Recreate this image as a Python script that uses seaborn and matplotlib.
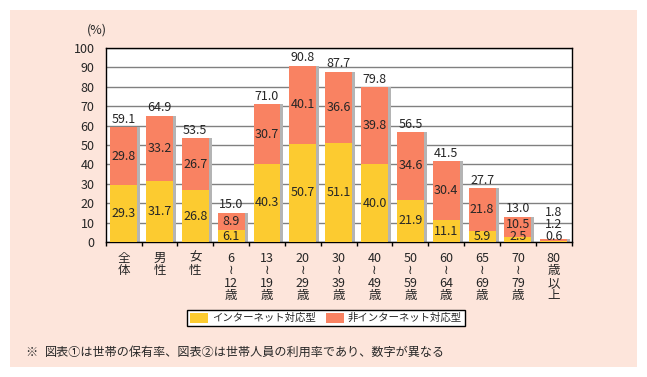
import numpy as np
import matplotlib
matplotlib.use("Agg")
import matplotlib.pyplot as plt
from matplotlib.patches import Rectangle, Patch
import seaborn as sns

# ---------------------------------------------------------------------------
# Data
# ---------------------------------------------------------------------------
categories = ["全\n体", "男\n性", "女\n性",
              "6\n≀\n12\n歳", "13\n≀\n19\n歳", "20\n≀\n29\n歳", "30\n≀\n39\n歳",
              "40\n≀\n49\n歳", "50\n≀\n59\n歳", "60\n≀\n64\n歳", "65\n≀\n69\n歳",
              "70\n≀\n79\n歳", "80\n歳\n以\n上"]
internet = [29.3, 31.7, 26.8, 6.1, 40.3, 50.7, 51.1, 40.0, 21.9, 11.1, 5.9, 2.5, 0.6]
non_internet = [29.8, 33.2, 26.7, 8.9, 30.7, 40.1, 36.6, 39.8, 34.6, 30.4, 21.8, 10.5, 1.2]
totals = [59.1, 64.9, 53.5, 15.0, 71.0, 90.8, 87.7, 79.8, 56.5, 41.5, 27.7, 13.0, 1.8]
legend_labels = ["インターネット対応型", "非インターネット対応型"]
footnote = "図表①は世帯の保有率、図表②は世帯人員の利用率であり、数字が異なる"

YELLOW = "#fccb30"
ORANGE = "#f98262"
SHADOW = "#b4b4b4"
PEACH = "#fde5db"

sns.set_theme(style="white")
plt.rcParams["font.family"] = ["Noto Sans CJK JP", "DejaVu Sans"]
plt.rcParams["font.size"] = 9

fig = plt.figure(figsize=(6.47, 3.77), dpi=100, facecolor="white")
fig.patches.append(Rectangle((10 / 647, 10 / 377), 627 / 647, 357 / 377,
                             transform=fig.transFigure, facecolor=PEACH,
                             edgecolor="none", zorder=-5))
ax = fig.add_axes([105.7 / 647, 1 - 242 / 377, 466 / 647, 194 / 377])
ax.set_facecolor("white")

n = len(categories)
pos = np.arange(n)

# shadow behind each bar
ax.bar(pos + 0.085, totals, width=0.75, color=SHADOW, linewidth=0, zorder=1)
sns.barplot(x=categories, y=totals, color=ORANGE, saturation=1, width=0.75,
            linewidth=0, ax=ax, zorder=2)
sns.barplot(x=categories, y=internet, color=YELLOW, saturation=1, width=0.75,
            linewidth=0, ax=ax, zorder=3)

# value labels
for i in range(n):
    y_low = max(internet[i] / 2, 2.7)
    y_up = max(internet[i] + non_internet[i] / 2, y_low + 6.5)
    y_tot = max(totals[i] + 4.2, y_up + 6.0)
    ax.text(i, y_low, f"{internet[i]:.1f}", ha="center", va="center", fontsize=9, zorder=5)
    ax.text(i, y_up, f"{non_internet[i]:.1f}", ha="center", va="center", fontsize=9, zorder=5)
    ax.text(i, y_tot, f"{totals[i]:.1f}", ha="center", va="center", fontsize=9, zorder=5)

ax.set_xlim(-0.5, n - 0.5)
ax.set_ylim(0, 100)
ax.set_yticks(np.arange(0, 101, 10))
ax.yaxis.grid(True, color="#808080", linewidth=1)
ax.set_axisbelow(True)
ax.set_xlabel("")
ax.set_ylabel("")
for s in ax.spines.values():
    s.set_visible(True)
    s.set_color("black")
    s.set_linewidth(1)

ax.tick_params(axis="y", length=0, pad=8, labelsize=9)
ax.tick_params(axis="x", which="major", length=0, pad=7, labelsize=9)
ax.set_xticks(np.arange(n + 1) - 0.5, minor=True)
ax.tick_params(axis="x", which="minor", length=3, width=1, color="black",
               direction="out", bottom=True)
for lab in ax.get_xticklabels():
    lab.set_linespacing(0.95)

ax.text(-0.02, 1.093, "(%)", transform=ax.transAxes, ha="center", va="center", fontsize=9)

handles = [Patch(facecolor=YELLOW, edgecolor="none"),
           Patch(facecolor=ORANGE, edgecolor="none")]
leg = fig.legend(handles, legend_labels, loc="center", bbox_to_anchor=(326 / 647, 1 - 318 / 377),
                 ncol=2, frameon=True, fancybox=False, edgecolor="black", facecolor="white",
                 fontsize=7.5, handlelength=1.7, handleheight=1.1, handletextpad=0.4,
                 columnspacing=1.0, borderpad=0.3, borderaxespad=0)
leg.get_frame().set_linewidth(1)
leg.get_frame().set_alpha(1)

fig.text(25 / 647, 1 - 352 / 377, "※", ha="left", va="center", fontsize=8.7)
fig.text(45 / 647, 1 - 352 / 377, footnote, ha="left", va="center", fontsize=8.7)

fig.savefig("out.png", dpi=100, facecolor="white")
